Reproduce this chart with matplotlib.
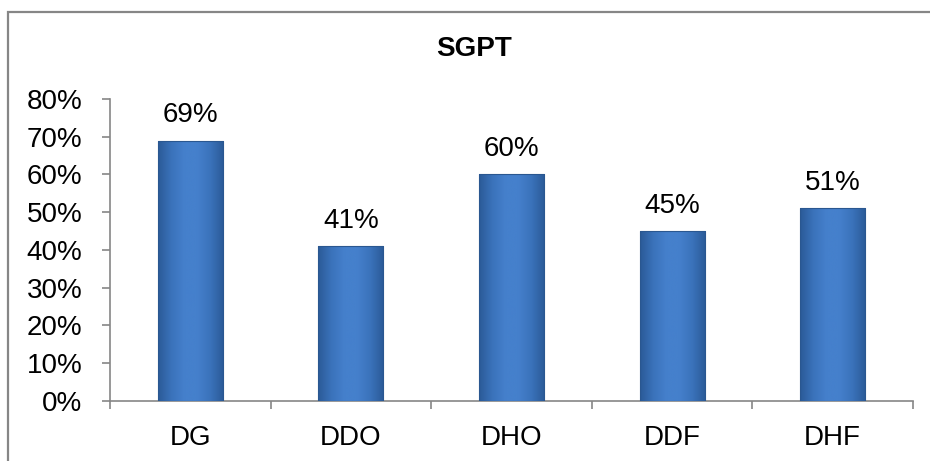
import matplotlib

matplotlib.use("Agg")
import matplotlib.pyplot as plt
import numpy as np
from matplotlib.colors import LinearSegmentedColormap
from matplotlib.patches import Rectangle
from matplotlib.ticker import FixedLocator, PercentFormatter

plt.rcParams["font.family"] = ["Liberation Sans", "DejaVu Sans"]

categories = ["DG", "DDO", "DHO", "DDF", "DHF"]
values = [69, 41, 60, 45, 51]
labels = ["69%", "41%", "60%", "45%", "51%"]
title = "SGPT"

AXIS_COLOR = "#868686"
bar_cmap = LinearSegmentedColormap.from_list(
    "bar", ["#2b5a97", "#3a72ba", "#4580cc", "#4580cc", "#3a72ba", "#2b5a97"]
)

fig = plt.figure(figsize=(9.3, 4.61), dpi=100)
# chart frame: only the top and left edges fall inside the image
fig.patches.append(
    Rectangle((0.009, -0.05), 1.2, 1.024, transform=fig.transFigure,
              fill=False, edgecolor=AXIS_COLOR, linewidth=1.6)
)

ax = fig.add_axes([0.1183, 0.1302, 0.8634, 0.6551])
x = np.arange(len(categories))
bars = ax.bar(x, values, width=0.405, color="#3a72ba", edgecolor="none", zorder=2)

# horizontal shading like the original bevelled bars
grad = np.linspace(0, 1, 256).reshape(1, -1)
for bar in bars:
    bx, by = bar.get_x(), bar.get_y()
    w, h = bar.get_width(), bar.get_height()
    im = ax.imshow(grad, cmap=bar_cmap, aspect="auto", extent=(bx, bx + w, by, by + h),
                   zorder=3, interpolation="bicubic")
    im.set_clip_path(bar)
    ax.add_patch(Rectangle((bx, by), w, h, fill=False, edgecolor="#2a5790",
                           linewidth=0.8, zorder=4))

for xi, v, lab in zip(x, values, labels):
    ax.annotate(lab, (xi, v), xytext=(0, 9), textcoords="offset points",
                ha="center", va="bottom", fontsize=20)

ax.set_xlim(-0.5, len(categories) - 0.5)
ax.set_ylim(0, 80)
ax.set_yticks(np.arange(0, 81, 10))
ax.yaxis.set_major_formatter(PercentFormatter(decimals=0))
ax.set_xticks(x)
ax.set_xticklabels(categories)
ax.xaxis.set_minor_locator(FixedLocator(np.arange(-0.5, len(categories), 1.0)))
ax.tick_params(axis="x", which="major", length=0, pad=17, labelsize=20)
ax.tick_params(axis="x", which="minor", length=6, color=AXIS_COLOR, width=1.2)
ax.tick_params(axis="y", length=6, color=AXIS_COLOR, width=1.2, pad=14, labelsize=20)

for side in ["top", "right"]:
    ax.spines[side].set_visible(False)
for side in ["left", "bottom"]:
    ax.spines[side].set_color(AXIS_COLOR)
    ax.spines[side].set_linewidth(1.2)

fig.text(0.51, 0.894, title, ha="center", va="center", fontsize=20, fontweight="bold")

fig.savefig("out.png", dpi=100)
